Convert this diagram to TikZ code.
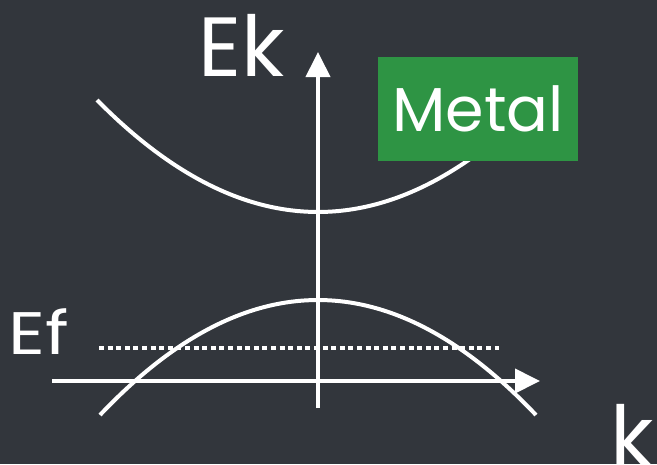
\documentclass[tikz,border=0pt]{standalone}
\usepackage{fontspec}
\setmainfont{Poppins}
\usetikzlibrary{arrows.meta}
\definecolor{board}{RGB}{50,54,60}
\definecolor{metalgreen}{RGB}{46,148,68}
\tikzset{
  chalk/.style={draw=white, line width=4pt},
  axisline/.style={chalk, -{Triangle[length=25pt,width=24pt]}},
  label/.style={text=white, inner sep=0pt, anchor=base west},
}
\begin{document}
\begin{tikzpicture}[x=1pt,y=-1pt]
  \fill[board] (0,0) rectangle (657,464);
  \useasboundingbox (0,0) rectangle (657,464);
  % coordinates
  \coordinate (yb) at (318,408);
  \coordinate (yt) at (318,52);
  \coordinate (xl) at (52,381);
  \coordinate (xr) at (540,381);
  \coordinate (cl) at (97,100);
  \coordinate (cr) at (539,100);
  \coordinate (vl) at (100,415);
  \coordinate (vr) at (536,415);
  \coordinate (fl) at (99,348);
  \coordinate (fr) at (499,348);
  % bands
  \draw[chalk] (cl) .. controls (244.3,249.3) and (391.7,249.3) .. (cr);
  \draw[chalk] (vl) .. controls (245.3,261.7) and (390.7,261.7) .. (vr);
  % fermi level
  \draw[chalk, dash pattern=on 5pt off 3.6pt] (fl) -- (fr);
  % axes
  \draw[axisline] (yb) -- (yt);
  \draw[axisline] (xl) -- (xr);
  % labels
  \node[label, font=\fontsize{84}{84}\selectfont] (ek) at (198,76) {Ek};
  \node[label, font=\fontsize{60}{60}\selectfont, xscale=1.2] (ef) at (8,354) {Ef};
  \node[label, font=\fontsize{84}{84}\selectfont] (k) at (610,466) {k};
  \node[fill=metalgreen, minimum width=200pt, minimum height=104pt, inner sep=0pt,
        text=white, font=\fontsize{62}{62}\selectfont] (metal) at (478,109) {Metal};
\end{tikzpicture}
\end{document}
